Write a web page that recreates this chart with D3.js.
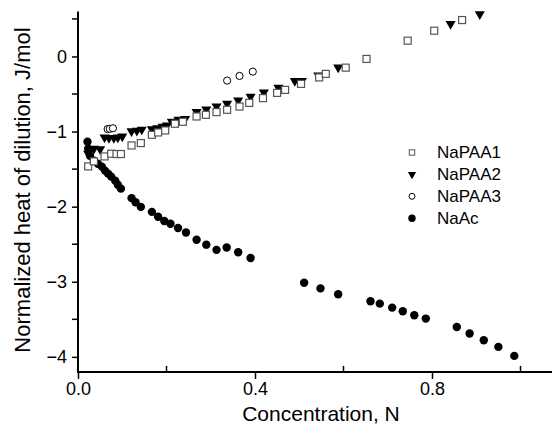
<!DOCTYPE html>
<html>
<head>
<meta charset="utf-8">
<script src="https://cdn.jsdelivr.net/npm/d3@7"></script>
<style>
  body { margin: 0; background: #fff; }
  svg { display: block; }
  text { font-family: Arial, "Liberation Sans", sans-serif; fill: #000; }
</style>
</head>
<body>
<div class="canvas"></div>
<script>
// ---- data: [concentration N, heat J/mol] ----
const naPAA1 = [[0.023,-1.464],[0.036,-1.397],[0.060,-1.331],[0.075,-1.295],[0.087,-1.299],[0.097,-1.299],
  [0.121,-1.185],[0.142,-1.153],[0.167,-1.043],[0.181,-1.012],[0.197,-0.985],[0.219,-0.896],[0.237,-0.870],
  [0.268,-0.799],[0.289,-0.777],[0.313,-0.741],[0.337,-0.710],[0.365,-0.667],[0.387,-0.618],[0.418,-0.555],
  [0.450,-0.485],[0.468,-0.445],[0.504,-0.365],[0.545,-0.279],[0.560,-0.232],[0.605,-0.149],[0.652,-0.033],
  [0.745,0.210],[0.805,0.343],[0.868,0.485]];

const naPAA2 = [[0.023,-1.295],[0.036,-1.228],[0.050,-1.235],[0.060,-1.078],[0.070,-1.086],[0.081,-1.086],
  [0.090,-1.078],[0.100,-1.065],[0.121,-0.996],[0.133,-0.987],[0.144,-0.973],[0.167,-0.969],[0.179,-0.954],
  [0.191,-0.934],[0.201,-0.917],[0.212,-0.867],[0.227,-0.843],[0.242,-0.830],[0.268,-0.737],[0.290,-0.704],
  [0.313,-0.664],[0.337,-0.628],[0.362,-0.584],[0.390,-0.534],[0.420,-0.478],[0.453,-0.416],[0.490,-0.325],
  [0.506,-0.325],[0.543,-0.252],[0.588,-0.146],[0.842,0.432],[0.908,0.564]];

const naPAA3 = [[0.067,-0.967],[0.072,-0.963],[0.079,-0.956],[0.337,-0.321],[0.365,-0.259],[0.395,-0.202]];

const naAc = [[0.0215,-1.135],[0.023,-1.228],[0.027,-1.321],[0.036,-1.388],[0.045,-1.428],[0.054,-1.467],
  [0.061,-1.520],[0.068,-1.560],[0.075,-1.600],[0.084,-1.653],[0.090,-1.707],[0.097,-1.760],[0.121,-1.886],
  [0.130,-1.942],[0.142,-2.003],[0.167,-2.069],[0.181,-2.135],[0.195,-2.191],[0.209,-2.227],[0.226,-2.284],
  [0.244,-2.344],[0.268,-2.440],[0.290,-2.506],[0.313,-2.575],[0.336,-2.543],[0.362,-2.607],[0.390,-2.683],
  [0.511,-3.012],[0.548,-3.088],[0.588,-3.167],[0.661,-3.260],[0.682,-3.291],[0.710,-3.344],[0.734,-3.393],
  [0.760,-3.446],[0.786,-3.490],[0.856,-3.602],[0.885,-3.689],[0.917,-3.778],[0.950,-3.867],[0.986,-3.987]];

const seriesNames = ["NaPAA1","NaPAA2","NaPAA3","NaAc"];
const xMajor = [0, 0.4, 0.8];
const xMinor = [0.2, 0.6, 1.0];
const yMajor = [-4, -3, -2, -1, 0];
const yMinor = [-3.5, -2.5, -1.5, -0.5, 0.5];

const svgWidth = 552, svgHeight = 426;

const svg = d3.select('.canvas')
  .append('svg')
    .attr('width', svgWidth)
    .attr('height', svgHeight);

const x = d3.scaleLinear().domain([0, 1.1]).range([78, 564.75]);
const y = d3.scaleLinear().domain([-4.2, 0.6]).range([371.9, 11.4]);

// axes (major ticks outward, minor x ticks inward like the original)
const xAxis = svg.append('g').attr('transform', `translate(0,${y(-4.2)})`);
xAxis.call(d3.axisBottom(x).tickValues(xMajor).tickSize(7).tickPadding(3).tickFormat(d3.format('.1f')));
xAxis.append('g').selectAll('line')
  .data(xMinor)
  .enter().append('line')
    .attr('x1', d => x(d)).attr('x2', d => x(d))
    .attr('y1', 0).attr('y2', -6)
    .attr('stroke', '#000').attr('stroke-width', 1.5);

const yAxis = svg.append('g').attr('transform', `translate(${x(0)},0)`);
yAxis.call(d3.axisLeft(y).tickValues(yMajor).tickSize(6).tickPadding(5).tickFormat(d3.format('d')));
yAxis.append('g').selectAll('line')
  .data(yMinor)
  .enter().append('line')
    .attr('x1', 0).attr('x2', -6)
    .attr('y1', d => y(d)).attr('y2', d => y(d))
    .attr('stroke', '#000').attr('stroke-width', 1.5);

[xAxis, yAxis].forEach(a => {
  a.select('.domain').remove();
  a.selectAll('.tick line').attr('stroke-width', 1.5);
  a.selectAll('.tick text').style('font-size', '18px').style('font-family', 'Arial, "Liberation Sans", sans-serif');
});
// plain axis lines (no end caps)
svg.append('line').attr('x1', x(0) - 1).attr('x2', svgWidth).attr('y1', y(-4.2)).attr('y2', y(-4.2))
  .attr('stroke', '#000').attr('stroke-width', 2);
svg.append('line').attr('x1', x(0)).attr('x2', x(0)).attr('y1', y(0.6)).attr('y2', y(-4.2))
  .attr('stroke', '#000').attr('stroke-width', 2);

// axis titles
svg.append('text')
  .attr('x', 321).attr('y', 421)
  .attr('text-anchor', 'middle')
  .style('font-size', '21px')
  .text('Concentration, N');

svg.append('text')
  .attr('transform', 'translate(30,190) rotate(-90)')
  .attr('text-anchor', 'middle')
  .style('font-size', '22px')
  .text('Normalized heat of dilution, J/mol');

// markers
const plot = svg.append('g');
const triangle = d3.symbol().type(d3.symbolTriangle);

plot.selectAll('circle.naac')
  .data(naAc)
  .enter().append('circle')
    .attr('class', 'naac')
    .attr('cx', d => x(d[0])).attr('cy', d => y(d[1]))
    .attr('r', 4.2)
    .attr('fill', '#000');

plot.selectAll('path.napaa2')
  .data(naPAA2)
  .enter().append('path')
    .attr('class', 'napaa2')
    .attr('d', triangle.size(44))
    .attr('transform', d => `translate(${x(d[0])},${y(d[1])}) rotate(180)`)
    .attr('fill', '#000');

plot.selectAll('rect.napaa1')
  .data(naPAA1)
  .enter().append('rect')
    .attr('class', 'napaa1')
    .attr('x', d => x(d[0]) - 3.5).attr('y', d => y(d[1]) - 3.5)
    .attr('width', 7).attr('height', 7)
    .attr('fill', '#fff').attr('stroke', '#555').attr('stroke-width', 1.2);

plot.selectAll('circle.napaa3')
  .data(naPAA3)
  .enter().append('circle')
    .attr('class', 'napaa3')
    .attr('cx', d => x(d[0])).attr('cy', d => y(d[1]))
    .attr('r', 3.6)
    .attr('fill', '#fff').attr('stroke', '#000').attr('stroke-width', 1);

// legend
const legend = svg.append('g').attr('transform', 'translate(412,152.5)');
seriesNames.forEach((name, i) => {
  const g = legend.append('g').attr('transform', `translate(0,${i * 21.9})`);
  if (i === 0) g.append('rect').attr('x', -2.7).attr('y', -2.7).attr('width', 5.4).attr('height', 5.4)
    .attr('fill', '#fff').attr('stroke', '#555').attr('stroke-width', 1);
  if (i === 1) g.append('path').attr('d', triangle.size(30)).attr('transform', 'rotate(180)').attr('fill', '#000');
  if (i === 2) g.append('circle').attr('r', 3).attr('fill', '#fff').attr('stroke', '#000').attr('stroke-width', 1);
  if (i === 3) g.append('circle').attr('r', 3.7).attr('fill', '#000');
  g.append('text')
    .attr('x', 25).attr('y', 0).attr('dy', '0.35em')
    .style('font-size', '17px')
    .text(name);
});
</script>
</body>
</html>
